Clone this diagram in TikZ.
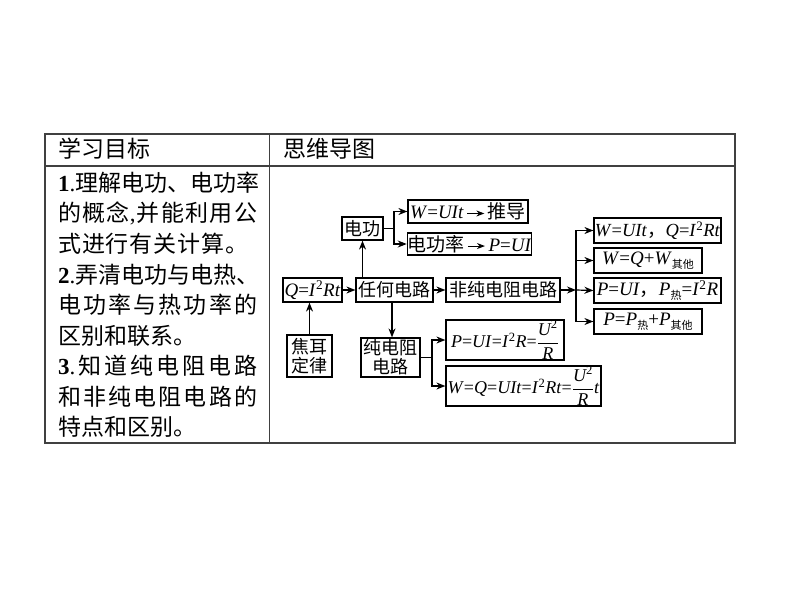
\documentclass[tikz,border=0pt]{standalone}
\usepackage{amsmath}
\usepackage{fontspec}
\setmainfont{Liberation Serif}
\newfontfamily\cjk{Noto Sans CJK SC}
\usetikzlibrary{arrows.meta}
\newcommand\tarr{\,\tikz[baseline=-0.6ex]\draw[-{Stealth[length=8pt,width=6pt]},line width=0.9pt](0pt,0pt)--(17pt,0pt);\,}
\newcommand\subcj[1]{\raisebox{-0.4ex}{\fontsize{11}{11}\selectfont\cjk #1}}
\newcommand\ii[1]{\textit{#1}}
\newcommand\sq{\textsuperscript{2}}
\newcommand\ufrac{$\dfrac{\text{\itshape U}^{\text{2}}}{\text{\itshape R}}$}
\newcommand\tn[1]{{\rmfamily #1}}
\tikzset{
  tline/.style={line width=1.4pt, draw=black!75},
  bx/.style={draw, line width=1.2pt, inner sep=0pt, align=center, font=\fontsize{18}{21}\selectfont\cjk},
  mbx/.style={draw, line width=1.2pt, inner sep=0pt, align=center, font=\fontsize{19}{21}\selectfont},
  fbx/.style={mbx, font=\fontsize{18}{20}\selectfont},
  conn/.style={line width=1.2pt},
  arr/.style={line width=1.2pt, -{Stealth[length=9pt,width=7pt]}},
  txt/.style={anchor=west, inner sep=0pt, font=\fontsize{23}{23}\selectfont\cjk}
}
\begin{document}
\begin{tikzpicture}[x=1pt,y=-1pt]
\useasboundingbox (0,0) rectangle (794,596);
% table
\draw[tline] (45,134) rectangle (735,443);
\draw[tline] (45,166) -- (735,166);
\draw[tline] (269.5,134) -- (269.5,443);
\node[txt] (h1) at (58,149) {学习目标};
\node[txt] (h2) at (283,149) {思维导图};
% left column
\node[txt] (l1) at (58,183) {\makebox[199pt][s]{\tn{\bfseries 1}\tn{.}\hfil 理\hfil 解\hfil 电\hfil 功\hfil 、\hfil 电\hfil 功\hfil 率}};
\node[txt] (l2) at (58,213.5) {\makebox[199pt][s]{的\hfil 概\hfil 念\tn{,}\hfil 并\hfil 能\hfil 利\hfil 用\hfil 公}};
\node[txt] (l3) at (58,244) {\makebox[190pt][s]{式\hfil 进\hfil 行\hfil 有\hfil 关\hfil 计\hfil 算\hfil 。}};
\node[txt] (l4) at (58,274.5) {\makebox[199pt][s]{\tn{\bfseries 2}\tn{.}\hfil 弄\hfil 清\hfil 电\hfil 功\hfil 与\hfil 电\hfil 热\hfil 、}};
\node[txt] (l5) at (58,305) {\makebox[199pt][s]{电\hfil 功\hfil 率\hfil 与\hfil 热\hfil 功\hfil 率\hfil 的}};
\node[txt] (l6) at (58,335.5) {区别和联系。};
\node[txt] (l7) at (58,366) {\makebox[199pt][s]{\tn{\bfseries 3}\tn{.}\hfil 知\hfil 道\hfil 纯\hfil 电\hfil 阻\hfil 电\hfil 路}};
\node[txt] (l8) at (58,396.5) {\makebox[199pt][s]{和\hfil 非\hfil 纯\hfil 电\hfil 阻\hfil 电\hfil 路\hfil 的}};
\node[txt] (l9) at (58,427) {特点和区别。};
% diagram nodes
\node[bx, minimum width=41pt, minimum height=23pt] (dg) at (362.5,228.5) {电功};
\node[mbx, minimum width=120pt, minimum height=23pt] (wt) at (468,211.5) {\ii{W}=\ii{UIt}\tarr{\cjk 推导}};
\node[mbx, minimum width=123pt, minimum height=22pt] (pw) at (469.5,244) {{\cjk 电功率}\tarr\ii{P}=\ii{UI}};
\node[mbx, minimum width=59pt, minimum height=24pt] (q) at (312.5,290) {\ii{Q}=\ii{I}\sq\ii{Rt}};
\node[bx, minimum width=77pt, minimum height=24pt] (rh) at (394.5,290) {任何电路};
\node[bx, minimum width=114pt, minimum height=24pt] (fc) at (503,290) {非纯电阻电路};
\node[mbx, minimum width=127pt, minimum height=25pt, font=\fontsize{18.5}{21}\selectfont] (r1) at (657.5,230.5) {\ii{W}=\ii{UIt}{\cjk ，}\ii{Q}=\ii{I}\sq\ii{Rt}};
\node[mbx, minimum width=108pt, minimum height=25pt] (r2) at (648,260.5) {\ii{W}=\ii{Q}+\ii{W}\subcj{其他}};
\node[mbx, minimum width=127pt, minimum height=25pt] (r3) at (657.5,290.5) {\ii{P}=\ii{UI}{\cjk ，}\ii{P}\subcj{热}=\ii{I}\sq\ii{R}};
\node[mbx, minimum width=108pt, minimum height=25pt] (r4) at (648,321.5) {\ii{P}=\ii{P}\subcj{热}+\ii{P}\subcj{其他}};
\node[bx, minimum width=45pt, minimum height=42pt, font=\fontsize{18}{19}\selectfont\cjk] (je) at (309.5,356) {焦耳\\定律};
\node[bx, minimum width=59pt, minimum height=39pt, font=\fontsize{18}{19}\selectfont\cjk] (cd) at (390.5,357.5) {纯电阻\\电路};
\node[fbx, minimum width=118pt, minimum height=40pt] (p1) at (505,340) {\ii{P}=\ii{UI}=\ii{I}\sq\ii{R}=\ufrac};
\node[fbx, minimum width=155pt, minimum height=40pt] (w1) at (523.5,386) {\ii{W}=\ii{Q}=\ii{UIt}=\ii{I}\sq\ii{Rt}=\ufrac\ii{t}};
% junction coordinates
\coordinate (j1) at (394,228.5);
\coordinate (j2) at (576,290);
\coordinate (j3) at (432,357.5);
% connectors
\draw[arr] (q.east) -- (rh.west);
\draw[arr] (rh.east) -- (fc.west);
\draw[arr] (je.north) -- (je.north |- q.south);
\draw[arr] (dg.south |- rh.north) -- (dg.south);
\draw[arr] (392,302) -- (cd.north -| 392,0);
\draw[conn] (dg.east) -- (j1);
\draw[arr] (j1) |- (wt.west);
\draw[arr] (j1) |- (pw.west);
\draw[arr] (fc.east) -- (j2);
\draw[arr] (j2) -- (r3.west);
\draw[arr] (j2) |- (r1.west);
\draw[arr] (j2) |- (r2.west);
\draw[arr] (j2) |- (r4.west);
\draw[conn] (cd.east) -- (j3);
\draw[arr] (j3) |- (p1.west);
\draw[arr] (j3) |- (w1.west);
\end{tikzpicture}
\end{document}
